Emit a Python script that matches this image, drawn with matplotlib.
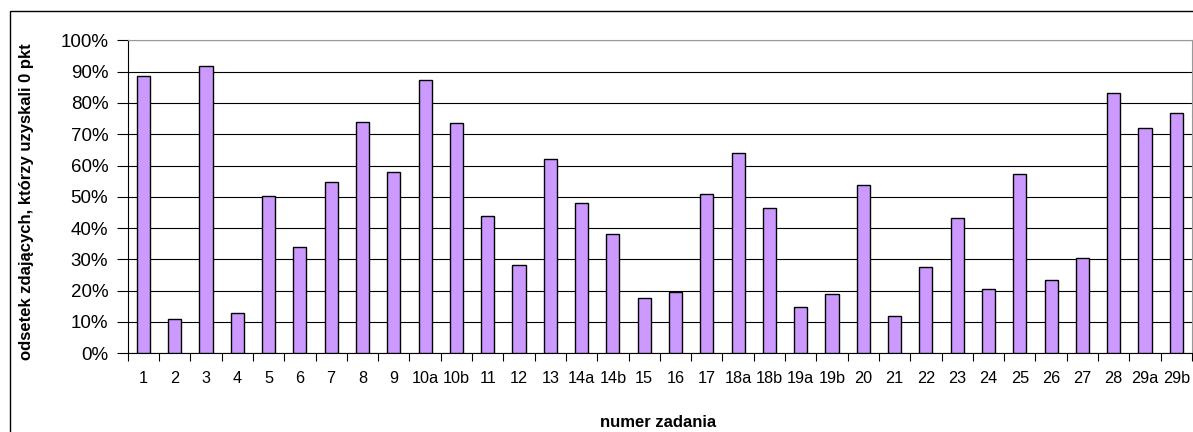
import matplotlib
matplotlib.use('Agg')
import matplotlib.pyplot as plt
from matplotlib.patches import Rectangle
from matplotlib.ticker import FuncFormatter

# numer zadania and share of students with 0 points
tasks = ['1', '2', '3', '4', '5', '6', '7', '8', '9', '10a', '10b', '11', '12', '13',
         '14a', '14b', '15', '16', '17', '18a', '18b', '19a', '19b', '20', '21', '22',
         '23', '24', '25', '26', '27', '28', '29a', '29b']
zero_share = [88.5, 11.1, 91.7, 12.8, 50.2, 34.1, 54.7, 74.0, 57.9, 87.2, 73.6, 44.0, 28.3, 62.1,
              48.1, 38.2, 17.7, 19.7, 51.0, 64.1, 46.5, 14.9, 19.0, 53.9, 12.0, 27.6,
              43.2, 20.6, 57.2, 23.4, 30.6, 83.1, 72.0, 76.9]

plt.rcParams['font.family'] = ['Liberation Sans', 'DejaVu Sans']

W, H = 1193, 432
fig = plt.figure(figsize=(W / 100, H / 100), dpi=100)
ax = fig.add_axes([127.7 / W, 1 - 353.3 / H, (1192 - 127.7) / W, (353.3 - 40.3) / H])

x = list(range(len(tasks)))
ax.bar(x, zero_share, width=0.42, color='#CC99FF', edgecolor='black', linewidth=1.0, zorder=3)

ax.set_xlim(-0.5, len(tasks) - 0.5)
ax.set_ylim(0, 100)
ax.set_yticks(range(0, 101, 10))
ax.yaxis.set_major_formatter(FuncFormatter(lambda v, p: f'{int(v)}%'))
ax.set_xticks(x)
ax.set_xticklabels(tasks)
ax.set_xticks([i - 0.5 for i in range(len(tasks) + 1)], minor=True)
ax.tick_params(axis='x', which='major', length=0, pad=12.5, labelsize=11.7)
ax.tick_params(axis='x', which='minor', length=6, width=0.8, direction='out')
ax.tick_params(axis='y', length=8, width=0.8, direction='out', pad=6, labelsize=13.5)

ax.grid(axis='y', color='black', linewidth=0.8, zorder=0)
ax.set_axisbelow(True)
for s in ['top', 'right']:
    ax.spines[s].set_color('#999999')
    ax.spines[s].set_linewidth(0.8)
for s in ['left', 'bottom']:
    ax.spines[s].set_color('black')
    ax.spines[s].set_linewidth(0.8)

fig.text(26.7 / W, 1 - 202 / H, 'odsetek zdających, którzy uzyskali 0 pkt', rotation=90,
         ha='center', va='center', fontsize=12, fontweight='bold')
fig.text(658 / W, 1 - 422.7 / H, 'numer zadania', ha='center', va='center',
         fontsize=12, fontweight='bold')

# outer chart frame
fig.patches.append(Rectangle((10 / W, -0.1), 1.2, 1.1 - 11 / H, transform=fig.transFigure,
                             fill=False, edgecolor='black', linewidth=1.0))

fig.savefig('out.png', dpi=100)
